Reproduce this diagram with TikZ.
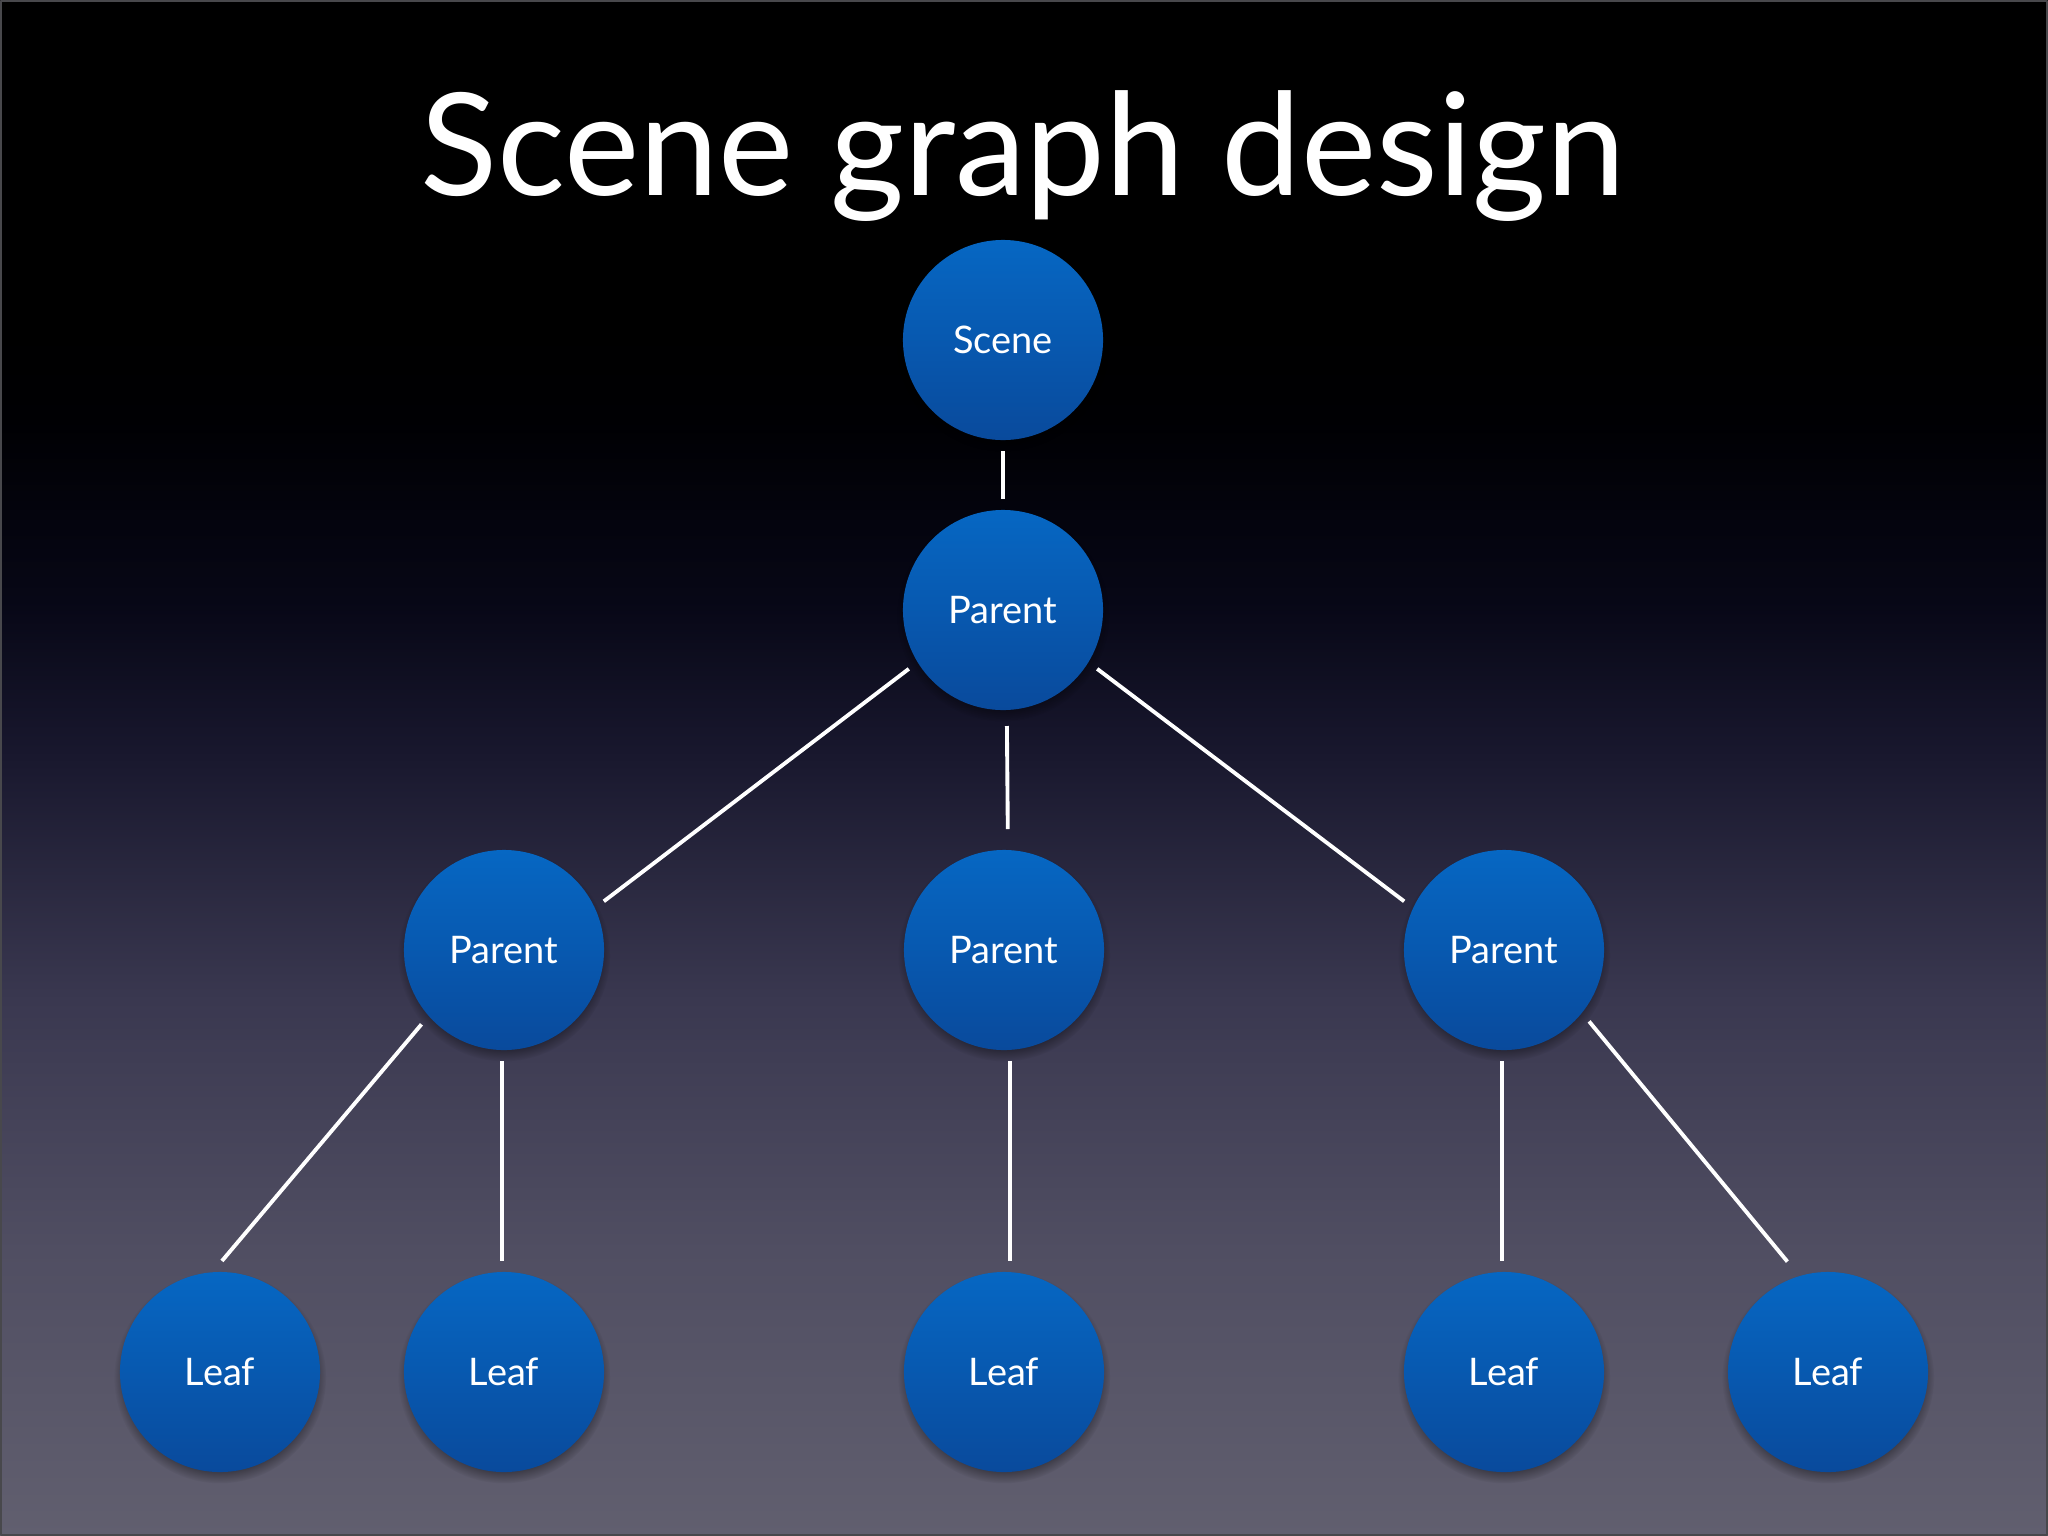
\documentclass[tikz,border=0pt]{standalone}
\usepackage{fontspec}
\setmainfont{Lato}
\usetikzlibrary{shadows}

\definecolor{nodetop}{RGB}{6,103,195}
\definecolor{nodebot}{RGB}{9,74,156}
\definecolor{slideedge}{RGB}{72,72,76}
\definecolor{bgA}{RGB}{97,95,111}
\definecolor{bgB}{RGB}{80,78,98}
\definecolor{bgC}{RGB}{58,56,80}
\definecolor{bgD}{RGB}{24,23,45}
\definecolor{bgE}{RGB}{7,7,22}
\definecolor{bgF}{RGB}{0,0,3}

% slide background, bottom to top
\pgfdeclareverticalshading{slidebg}{100bp}{color(0bp)=(bgA); color(25bp)=(bgA);
  color(34.3bp)=(bgB); color(42.45bp)=(bgC); color(50.6bp)=(bgD);
  color(55.45bp)=(bgE); color(61.35bp)=(bgF); color(64.25bp)=(black);
  color(75bp)=(black); color(100bp)=(black)}

\begin{document}
\begin{tikzpicture}[x=0.01cm, y=-0.01cm, line join=round,
    treenode/.style={circle, minimum size=2cm, inner sep=0pt, outer sep=0.11cm,
      top color=nodetop, bottom color=nodebot, text=white,
      font=\fontsize{10.8}{12}\selectfont,
      circular drop shadow={shadow scale=1.06, shadow xshift=0pt,
        shadow yshift=-0.05cm, fill=black, opacity=0.45}},
    link/.style={white, line width=1.1pt}]

  % Slide background
  \useasboundingbox (0,0) rectangle (2048,1536);
  \shade[shading=slidebg] (0,0) rectangle (2048,1536);
  \draw[slideedge, line width=0.02cm] (1,1) rectangle (2047,1535);

  % Title
  \node[text=white, anchor=base, inner sep=0pt, font=\fontsize{40.5}{48}\selectfont]
    (title) at (1023,195) {Scene graph design};

  % Tree nodes
  \node[treenode] (scene) at (1003,340) {Scene};
  \node[treenode] (root)  at (1003,610) {Parent};
  \node[treenode] (pl)    at (504,950)  {Parent};
  \node[treenode] (pm)    at (1004,950) {Parent};
  \node[treenode] (pr)    at (1504,950) {Parent};
  \node[treenode] (la)    at (220,1372)  {Leaf};
  \node[treenode] (lb)    at (504,1372)  {Leaf};
  \node[treenode] (lc)    at (1004,1372) {Leaf};
  \node[treenode] (ld)    at (1504,1372) {Leaf};
  \node[treenode] (le)    at (1828,1372) {Leaf};

  % Draw edges
  \draw[link] (scene.270) -- (root.90);
  \draw[link] (root.212) -- (pl.26);
  \draw[link, shorten <=0.05cm, shorten >=0.1cm] (root.272) -- (pm.88);
  \draw[link] (root.328) -- (pr.154);

  % Leaf edges
  \draw[link] (pl.222) -- (la.89);
  \draw[link] (pl.269) -- (lb.91);
  \draw[link] (pm.273) -- (lc.87);
  \draw[link] (pr.269) -- (ld.91);
  \draw[link, shorten >=0.07cm] (pr.320) -- (le.109);

\end{tikzpicture}
\end{document}
